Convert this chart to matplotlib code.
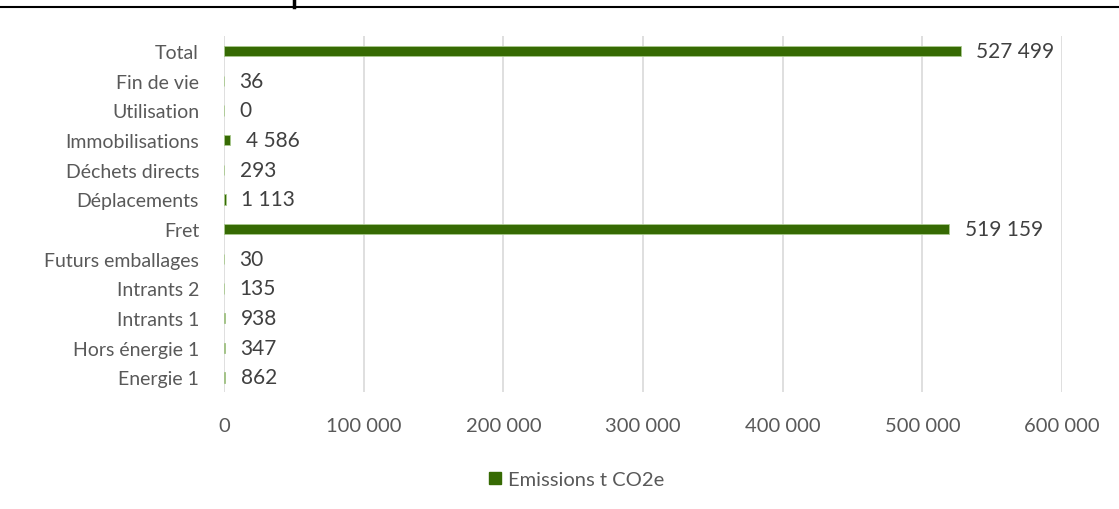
import matplotlib.pyplot as plt
from matplotlib.lines import Line2D

# emissions par poste (t CO2e)
postes = ["Energie 1", "Hors énergie 1", "Intrants 1", "Intrants 2", "Futurs emballages",
          "Fret", "Déplacements", "Déchets directs", "Immobilisations", "Utilisation",
          "Fin de vie", "Total"]
emissions = [862, 347, 938, 135, 30, 519159, 1113, 293, 4586, 0, 36, 527499]
ticks_x = [0, 100000, 200000, 300000, 400000, 500000, 600000]

green = "#366a03"
grey_txt = "#595959"

def fmt(v):
    return f"{v:,}".replace(",", " ")

plt.rcParams['font.family'] = ['Lato', 'DejaVu Sans']

fig = plt.figure(figsize=(11.19, 5.10), dpi=100)
ax = fig.add_axes([0.2002, 0.229, 0.749, 0.698])

y = range(len(postes))
ax.barh(y, emissions, height=0.35, color=green, edgecolor="#a9c98e", linewidth=0.6, zorder=3)
for i, v in enumerate(emissions):
    ax.annotate(fmt(v), (v, i), xytext=(11, 0), textcoords="offset points",
                va="center", ha="left", fontsize=15, color="#404040")

ax.set_xlim(0, 600000)
ax.set_ylim(-0.5, len(postes) - 0.5)
ax.set_xticks(ticks_x)
ax.set_xticklabels([fmt(t) for t in ticks_x], fontsize=14.5, color=grey_txt)
ax.set_yticks(list(y))
ax.set_yticklabels(postes, fontsize=14, color=grey_txt)
ax.tick_params(axis="both", length=0)
ax.tick_params(axis="x", pad=18)
ax.tick_params(axis="y", pad=18)
ax.grid(axis="x", color="#d9d9d9", linewidth=1.2, zorder=0)
for s in ax.spines.values():
    s.set_visible(False)

handle = Line2D([], [], marker="s", linestyle="none", color=green, markersize=8)
fig.legend([handle], ["Emissions t CO2e"], loc="center", bbox_to_anchor=(0.509, 0.058),
           frameon=False, fontsize=14.5, labelcolor=grey_txt, handletextpad=-0.4)

# bordure de tableau en haut
fig.add_artist(Line2D([0, 1], [1 - 7.5 / 510, 1 - 7.5 / 510], color="black", linewidth=1.5))
fig.add_artist(Line2D([294 / 1119, 294 / 1119], [1, 1 - 7.5 / 510], color="black", linewidth=2.5))

fig.savefig("out.png", dpi=100)
